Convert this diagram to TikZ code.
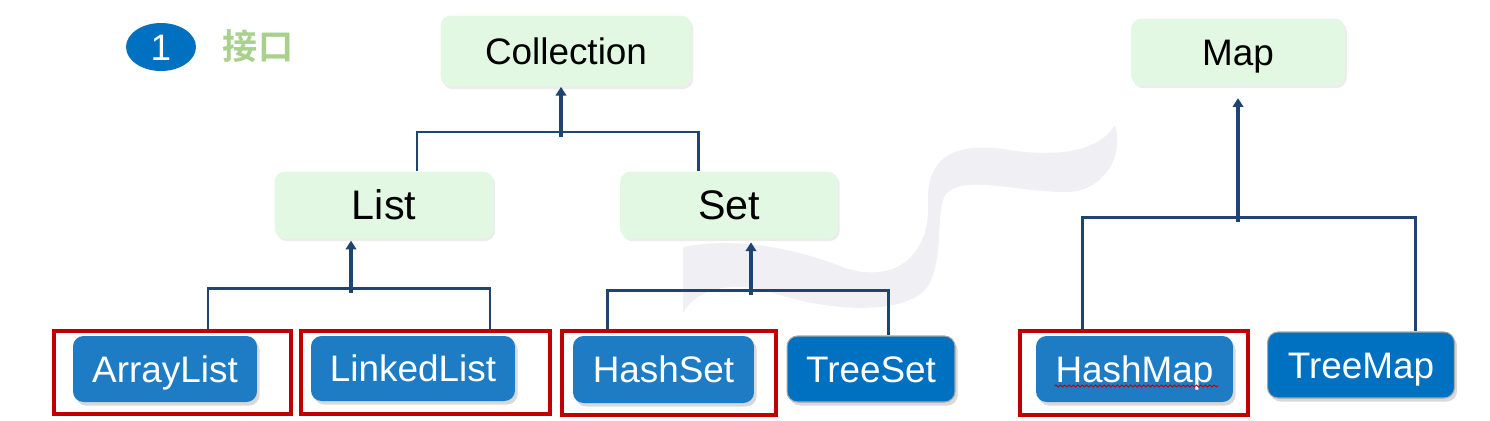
\documentclass[tikz,border=0pt]{standalone}
\usepackage{fontspec}
\setmainfont{Liberation Sans}
\newfontfamily\cjk[BoldFont={Noto Sans CJK SC Bold}]{Noto Sans CJK SC}
\usetikzlibrary{arrows.meta, shapes.geometric, shadows, decorations.pathmorphing}

\definecolor{ifacegreen}{HTML}{E2F8E2}
\definecolor{implblue}{HTML}{1E7CC4}
\definecolor{treeblue}{HTML}{0070C0}
\definecolor{linknavy}{HTML}{1F4470}
\definecolor{pickred}{HTML}{C00000}
\definecolor{titlegreen}{HTML}{A9D18E}
\definecolor{markgray}{HTML}{EFEFF4}

\begin{document}
\begin{tikzpicture}[x=0.02cm, y=-0.02cm, font=\fontsize{21}{25}\selectfont]
\tikzstyle{box} = [rectangle, rounded corners=6pt, text height=15pt, text depth=0pt]
\tikzstyle{iface} = [box, fill=ifacegreen, text=black,
  drop shadow={shadow xshift=1pt, shadow yshift=-1.5pt, opacity=0.15}]
\tikzstyle{big} = [font=\fontsize{23.5}{28}\selectfont, text height=16.8pt]
\tikzstyle{impl} = [box, fill=implblue, text=white,
  drop shadow={shadow xshift=1.5pt, shadow yshift=-2pt, opacity=0.3}]
\tikzstyle{tree} = [impl, fill=treeblue, draw=black!35, line width=0.6pt]
\tikzstyle{pick} = [rectangle, draw=pickred, line width=2.2pt, fill=white]
\tikzstyle{link} = [draw=linknavy, line width=1.7pt]
\tikzstyle{up} = [draw=linknavy, line width=2.3pt, -{Triangle[width=6pt,length=5pt]}]

% faint logo behind the diagram
\fill[markgray] (683,247) .. controls (740,236) and (800,250) .. (845,268)
  .. controls (900,285) and (930,250) .. (928,205)
  .. controls (926,160) and (950,140) .. (1010,150)
  .. controls (1060,158) and (1100,150) .. (1115,125)
  .. controls (1125,160) and (1100,195) .. (1060,192)
  .. controls (1010,190) and (960,175) .. (945,195)
  .. controls (935,215) and (945,265) .. (925,290)
  .. controls (900,315) and (830,312) .. (770,292)
  .. controls (730,280) and (695,290) .. (683,313) -- cycle;

% title
\node[ellipse, fill=treeblue, text=white, minimum width=1.4cm, minimum height=0.96cm, inner sep=0pt, text height=15pt, text depth=0pt] (badge) at (161,47) {1};
\node[text=titlegreen, font=\cjk\bfseries\fontsize{20}{24}\selectfont] (title) at (258,46) {接口};

% interfaces
\node[iface, minimum width=5.02cm, minimum height=1.42cm] (Collection) at (566,51) {Collection};
\node[iface, minimum width=4.28cm, minimum height=1.34cm] (Map) at (1238,52) {Map};
\node[iface, big, minimum width=4.38cm, minimum height=1.34cm] (List) at (384,205) {List};
\node[iface, big, minimum width=4.36cm, minimum height=1.34cm] (Set) at (729,205) {Set};

% red frames
\node[pick, minimum width=4.74cm, minimum height=1.66cm] (alFrame) at (172.5,372.5) {};
\node[pick, minimum width=4.98cm, minimum height=1.66cm] (llFrame) at (425.5,372.5) {};
\node[pick, minimum width=4.28cm, minimum height=1.68cm] (hsFrame) at (669,373) {};
\node[pick, minimum width=4.56cm, minimum height=1.68cm] (hmFrame) at (1134,373) {};

% classes
\node[impl, minimum width=3.68cm, minimum height=1.32cm] (ArrayList) at (165,369) {ArrayList};
\node[impl, minimum width=4.08cm, minimum height=1.30cm] (LinkedList) at (413,368.5) {LinkedList};
\node[impl, minimum width=3.62cm, minimum height=1.34cm] (HashSet) at (663.5,369.5) {HashSet};
\node[tree, minimum width=3.36cm, minimum height=1.32cm] (TreeSet) at (871,369) {TreeSet};
\node[impl, minimum width=3.94cm, minimum height=1.32cm] (HashMap) at (1134.5,369) {HashMap};
\node[tree, minimum width=3.74cm, minimum height=1.32cm] (TreeMap) at (1361,365) {TreeMap};
\draw[pickred, line width=0.5pt, decorate, decoration={snake, amplitude=0.6pt, segment length=2.5pt}]
  ([xshift=-1.6cm, yshift=-0.34cm]HashMap.center) -- ([xshift=1.68cm, yshift=-0.34cm]HashMap.center);

% joins
\coordinate (colJoin) at (561,132);
\coordinate (listJoin) at (351,288);
\coordinate (setJoin) at (751,290);
\coordinate (mapJoin) at (1238,217);

\draw[link] ([xshift=0.66cm]List.north) |- (colJoin) -| ([xshift=-0.62cm]Set.north);
\draw[up] ([yshift=-3pt]colJoin) -- (colJoin |- Collection.south);

\draw[link] ([xshift=0.71cm]alFrame.north) |- (listJoin) -| ([xshift=1.29cm]llFrame.north);
\draw[up, shorten >=1pt] ([yshift=-3pt]listJoin) -- (listJoin |- List.south);

\draw[link] ([xshift=-1.24cm]hsFrame.north) |- (setJoin) -| ([xshift=0.34cm]TreeSet.north);
\draw[up, shorten >=2pt] ([yshift=-3pt]setJoin) -- (setJoin |- Set.south);

\draw[link] ([xshift=-1.04cm]hmFrame.north) |- (mapJoin) -| ([xshift=1.08cm]TreeMap.north);
\draw[up, shorten >=7pt] ([yshift=-3pt]mapJoin) -- (mapJoin |- Map.south);

\pgfresetboundingbox
\useasboundingbox (0,0) rectangle (1490,420);
\end{tikzpicture}
\end{document}
